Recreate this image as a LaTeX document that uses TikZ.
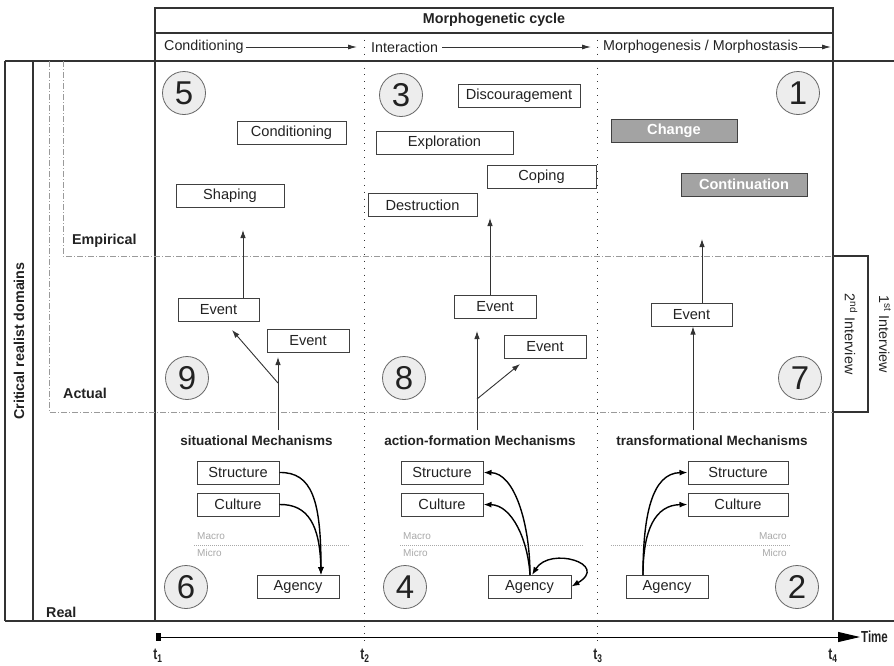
\documentclass[tikz,border=0pt]{standalone}
\usepackage{fontspec}
\setmainfont{Liberation Sans}
\usetikzlibrary{arrows.meta}
\definecolor{framec}{HTML}{333333}
\definecolor{boxc}{HTML}{404040}
\definecolor{txtc}{HTML}{222222}
\definecolor{grayfill}{HTML}{A3A3A3}
\definecolor{numfill}{HTML}{EDEDED}
\definecolor{numdraw}{HTML}{666666}
\definecolor{ddc}{HTML}{9A9A9A}
\definecolor{mmc}{HTML}{A8A8A8}
\newcommand\myfs[1]{\fontsize{#1}{#1}\selectfont}
\begin{document}
\begin{tikzpicture}[x=1pt,y=-1pt,
  fr/.style={draw=framec, line width=1.1pt},
  box/.style={draw=boxc, fill=white, line width=1pt, minimum height=23pt, inner sep=0pt, font=\myfs{14.6}, text=txtc},
  gbox/.style={box, fill=grayfill, text=white, font=\myfs{14.6}\bfseries},
  num/.style={circle, draw=numdraw, fill=numfill, line width=0.8pt, minimum size=43pt, inner sep=0pt, font=\myfs{33}, text=txtc},
  ev/.style={-{Latex[length=8pt,width=5.5pt]}, line width=0.9pt, draw=framec},
  mech/.style={-{Latex[length=8pt,width=6pt]}, line width=1.4pt, draw=black},
  mechb/.style={{Latex[length=8pt,width=6pt]}-{Latex[length=8pt,width=6pt]}, line width=1.4pt, draw=black},
  hdr/.style={-{Latex[length=9pt,width=5pt]}, line width=0.9pt, draw=framec},
  dd/.style={draw=ddc, line width=0.9pt, dash pattern=on 6pt off 2pt on 1pt off 2pt},
  coldiv/.style={draw=framec, line width=0.9pt, dash pattern=on 0.9pt off 6pt},
  mm/.style={draw=mmc, line width=1pt, dash pattern=on 1pt off 1pt},
  lbl/.style={font=\myfs{14.3}, text=txtc, inner sep=0pt},
  blbl/.style={font=\myfs{14.3}\bfseries, text=txtc, inner sep=0pt},
  mlbl/.style={font=\myfs{13.5}\bfseries, text=txtc, inner sep=0pt},
  small/.style={font=\myfs{10}, text=mmc, inner sep=0pt},
  tlbl/.style={font=\myfs{16}\bfseries, text=txtc, inner sep=0pt}
]
\useasboundingbox (0,0) rectangle (894,665);

% ---------- frame ----------
\draw[fr] (155,8) rectangle (833,61);
\draw[fr] (155,33) -- (833,33);
\draw[fr] (5,61) -- (894,61);
\draw[fr] (5,621) -- (894,621);
\draw[fr] (5,61) -- (5,621);
\draw[fr] (33,61) -- (33,621);
\draw[fr] (155,61) -- (155,621);
\draw[fr] (833,61) -- (833,621);
\draw[fr] (833,256) rectangle (868,412);

% domains
\draw[dd] (49,61) -- (49,412) -- (833,412);
\draw[dd] (63,61) -- (63,256) -- (833,256);

% column dividers
\draw[coldiv] (364,33) -- (364,645);
\draw[coldiv] (597,33) -- (597,645);

% ---------- header ----------
\node[blbl] (title) at (494,20) {Morphogenetic cycle};
\node[lbl, anchor=west] (hcond) at (164,47) {Conditioning};
\node[lbl, anchor=west] (hinter) at (371,47) {Interaction};
\node[lbl, anchor=west] (hmorph) at (603,47) {Morphogenesis / Morphostasis};
\coordinate (hc1) at (357,47);
\coordinate (hc2) at (591,47);
\coordinate (hc3) at (831,47);
\draw[hdr] ([xshift=2pt]hcond.east) -- (hc1);
\draw[hdr] ([xshift=4pt]hinter.east) -- (hc2);
\draw[hdr] ([xshift=1pt]hmorph.east) -- (hc3);

% ---------- side labels ----------
\node[blbl, rotate=90] (crd) at (19,341) {Critical realist domains};
\node[blbl, anchor=west] (emp) at (72,241) {Empirical};
\node[blbl, anchor=west] (act) at (63,393) {Actual};
\node[blbl, anchor=west] (real) at (46,612) {Real};
\node[lbl, rotate=-90] (int2) at (851,334) {2\textsuperscript{nd} Interview};
\node[lbl, rotate=-90] (int1) at (885,334) {1\textsuperscript{st} Interview};

% ---------- numbers ----------
\node[num] (n5) at (184,93) {5};
\node[num] (n3) at (401,95) {3};
\node[num] (n1) at (798,93) {1};
\node[num] (n9) at (187,378) {9};
\node[num] (n8) at (404,378) {8};
\node[num] (n7) at (800,378) {7};
\node[num] (n6) at (186,587) {6};
\node[num] (n4) at (405,587) {4};
\node[num] (n2) at (797,587) {2};

% ---------- empirical boxes ----------
\node[box, minimum width=109pt] (bcond) at (291.5,132.5) {Conditioning};
\node[box, minimum width=108pt] (bshap) at (230,195.5) {Shaping};
\node[box, minimum width=122pt] (bdisc) at (519,96) {Discouragement};
\node[box, minimum width=137pt] (bexpl) at (444.5,142.5) {Exploration};
\node[box, minimum width=109pt] (bcop) at (541.5,176.5) {Coping};
\node[box, minimum width=109pt] (bdest) at (422.5,205) {Destruction};
\node[gbox, minimum width=126pt] (bchg) at (674,130.5) {Change};
\node[gbox, minimum width=126pt] (bcont) at (744,184.5) {Continuation};

% ---------- events ----------
\node[box, minimum width=81pt] (e1a) at (218.5,310) {Event};
\node[box, minimum width=82pt] (e1b) at (308,340.5) {Event};
\node[box, minimum width=82pt] (e2a) at (495,306.5) {Event};
\node[box, minimum width=82pt] (e2b) at (545,346.5) {Event};
\node[box, minimum width=81pt] (e3) at (691.5,314.5) {Event};

% ---------- mechanism labels ----------
\node[mlbl] (m1) at (256.5,441) {situational Mechanisms};
\node[mlbl] (m2) at (480,441) {action-formation Mechanisms};
\node[mlbl] (m3) at (712,441) {transformational Mechanisms};

% ---------- event arrows ----------
\coordinate (c1s) at (278,430);
\coordinate (c1t) at (278,357);
\coordinate (c1d) at (278,383);
\coordinate (c1dt) at (232,330);
\coordinate (c1u) at (243,230);
\draw[ev] (c1s) -- (c1t);
\draw[ev] (c1d) -- (c1dt);
\draw[ev] (e1a.north -| c1u) -- (c1u);

\coordinate (c2s) at (477,430);
\coordinate (c2t) at (477,331);
\coordinate (c2d) at (477,399);
\coordinate (c2dt) at (520,364);
\coordinate (c2u) at (490,218);
\draw[ev] (c2s) -- (c2t);
\draw[ev] (c2d) -- (c2dt);
\draw[ev] (e2a.north -| c2u) -- (c2u);

\coordinate (c3s) at (693,430);
\coordinate (c3u) at (702,239);
\draw[ev] (c3s) -- (e3.south -| c3s);
\draw[ev] (e3.north -| c3u) -- (c3u);

% ---------- real: macro/micro ----------
\draw[mm] (194,545) -- (349,545);
\draw[mm] (400,545) -- (584,545);
\draw[mm] (611,545) -- (791,545);
\node[small, anchor=west] (ma1) at (197,536) {Macro};
\node[small, anchor=west] (mi1) at (197,553) {Micro};
\node[small, anchor=west] (ma2) at (403,536) {Macro};
\node[small, anchor=west] (mi2) at (403,553) {Micro};
\node[small, anchor=east] (ma3) at (787,536) {Macro};
\node[small, anchor=east] (mi3) at (787,553) {Micro};

% column 1
\node[box, minimum width=82pt] (s1) at (238,472.5) {Structure};
\node[box, minimum width=82pt] (cu1) at (238,504.5) {Culture};
\node[box, minimum width=82pt] (a1) at (298,586.5) {Agency};
\coordinate (a1t) at (321,575);
\draw[mech] (s1.east) .. controls (312,472) and (321,500) .. (a1t);
\draw[mech] (cu1.east) .. controls (308,504) and (320,525) .. (a1t);

% column 2
\node[box, minimum width=82pt] (s2) at (442,472.5) {Structure};
\node[box, minimum width=82pt] (cu2) at (442,504.5) {Culture};
\node[box, minimum width=83pt] (a2) at (529.5,586.5) {Agency};
\coordinate (a2t) at (530,575);
\draw[mech] (a2t) .. controls (530,525) and (515,473) .. (s2.east);
\draw[mech] (a2t) .. controls (528,540) and (512,505) .. (cu2.east);
\draw[mechb] (532,575) .. controls (550,546) and (610,564) .. (a2.east);

% column 3
\node[box, minimum width=100pt] (s3) at (738,472.5) {Structure};
\node[box, minimum width=100pt] (cu3) at (738,504.5) {Culture};
\node[box, minimum width=82pt] (a3) at (667,586.5) {Agency};
\coordinate (a3t) at (643,575);
\draw[mech] (a3t) .. controls (643,515) and (652,473) .. (s3.west);
\draw[mech] (a3t) .. controls (643,530) and (655,505) .. (cu3.west);

% ---------- time axis ----------
\fill[black] (155.5,632.5) rectangle (161,641);
\coordinate (tend) at (860,637);
\draw[line width=1pt, -{Triangle[length=22pt,width=10pt]}] (158,637) -- (tend);
\node[tlbl, anchor=west] (time) at (861,637) {\scalebox{0.72}[1]{Time}};
\node[tlbl] (t1) at (158,656) {\scalebox{0.75}[1]{t\textsubscript{1}}};
\node[tlbl] (t2) at (365,656) {\scalebox{0.75}[1]{t\textsubscript{2}}};
\node[tlbl] (t3) at (598,656) {\scalebox{0.75}[1]{t\textsubscript{3}}};
\node[tlbl] (t4) at (833,656) {\scalebox{0.75}[1]{t\textsubscript{4}}};
\end{tikzpicture}
\end{document}
